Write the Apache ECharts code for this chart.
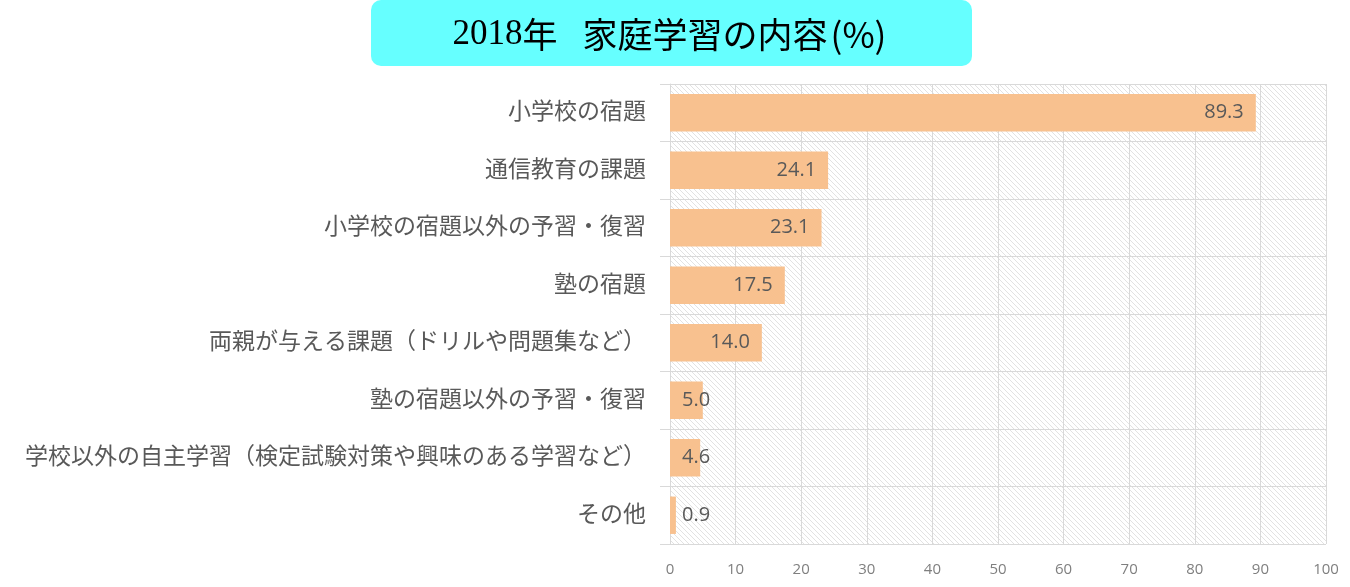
<!DOCTYPE html>
<html><head><meta charset="utf-8">
<script src="https://cdn.jsdelivr.net/npm/echarts@6/dist/echarts.min.js"></script>
<style>html,body{margin:0;padding:0;background:#fff}#c{width:1350px;height:587px}</style>
</head><body><div id="c"></div>
<script>
const titleYear = '2018';
const titleNen = '年';
const titleMain = '家庭学習の内容';
const titleUnit = '(%)';
const categories = ['小学校の宿題','通信教育の課題','小学校の宿題以外の予習・復習','塾の宿題','両親が与える課題（ドリルや問題集など）','塾の宿題以外の予習・復習','学校以外の自主学習（検定試験対策や興味のある学習など）','その他'];
const values = [89.3, 24.1, 23.1, 17.5, 14.0, 5.0, 4.6, 0.9];
const xTicks = [0,10,20,30,40,50,60,70,80,90,100];

const s = 5;
const cv = document.createElement('canvas');
cv.width = s; cv.height = s;
const cx = cv.getContext('2d');
cx.fillStyle = '#ffffff'; cx.fillRect(0,0,s,s);
cx.strokeStyle = '#e2e2e2'; cx.lineWidth = 1;
cx.beginPath(); cx.moveTo(-1,-1); cx.lineTo(s+1,s+1); cx.stroke();

const chart = echarts.init(document.getElementById('c'));
const font = '"Open Sans","Noto Sans CJK JP",sans-serif';
chart.setOption({
  animation:false,
  backgroundColor:'#fff',
  graphic:[
    {type:'rect', shape:{x:371,y:0,width:601,height:66,r:10}, style:{fill:'#66ffff'}},
    {type:'text', x:671, y:35, style:{
      text:'{a|'+titleYear+'}{b|'+titleNen+'}{s| }{b|'+titleMain+'}{c|'+titleUnit+'}',
      align:'center', verticalAlign:'middle',
      rich:{
        a:{font:'35px "Liberation Serif",serif', fill:'#000', verticalAlign:'middle'},
        b:{font:'35px "Noto Sans CJK JP",sans-serif', fill:'#000', verticalAlign:'middle'},
        s:{font:'35px "Noto Sans CJK JP",sans-serif', width:25, verticalAlign:'middle'},
        c:{font:'35px "Noto Sans CJK JP",sans-serif', fill:'#000', verticalAlign:'middle', padding:[0,3,0,3]}
      }}}
  ],
  grid:{left:670, right:24, top:84, bottom:43, show:true, borderWidth:0, backgroundColor:{image:cv, repeat:'repeat'}},
  xAxis:{type:'value', min:0, max:100, interval:10,
    axisLine:{show:false}, axisTick:{show:false},
    splitLine:{lineStyle:{color:'#d9d9d9'}},
    axisLabel:{color:'#7f7f7f', fontSize:15, fontFamily:font, margin:18, formatter:v=>xTicks.includes(v)?String(v):''}},
  yAxis:{type:'category', data:categories, inverse:true,
    axisLine:{show:true, lineStyle:{color:'#d9d9d9'}},
    axisTick:{show:true, length:10, lineStyle:{color:'#d9d9d9'}},
    splitLine:{show:true, lineStyle:{color:'#d9d9d9'}},
    axisLabel:{color:'#595959', fontSize:23, fontFamily:font, margin:24}},
  series:[{type:'bar', barCategoryGap:'35%',
    data: values.map(v=>({value:v, label: v<10 ? {position:[12,'50%'], verticalAlign:'middle', align:'left'} : {position:'insideRight', distance:12}})),
    itemStyle:{color:'#f8c18f'},
    label:{show:true, color:'#595959', fontSize:20, fontFamily:font, formatter:p=>p.value.toFixed(1)}
  }]
});
</script></body></html>
